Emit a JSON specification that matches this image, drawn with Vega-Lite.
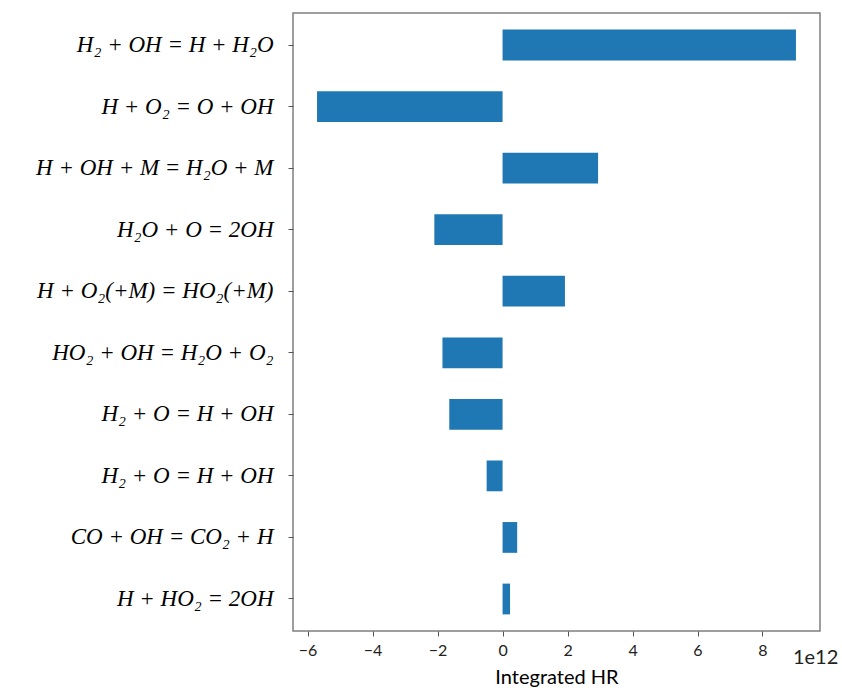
{
  "$schema": "https://vega.github.io/schema/vega-lite/v6.json",
  "width": 527,
  "height": 618,
  "autosize": {"type": "none"},
  "padding": {"left": 293, "top": 13, "right": 22, "bottom": 57},
  "background": "white",
  "config": {
    "view": {"stroke": "#7f7f7f", "strokeWidth": 1.5},
    "axis": {"grid": false, "domain": false}
  },
  "data": {
    "values": [
      {"order": 1, "reaction": "H₂ + OH = H + H₂O", "hr": 9.03},
      {"order": 2, "reaction": "H + O₂ = O + OH", "hr": -5.71},
      {"order": 3, "reaction": "H + OH + M = H₂O + M", "hr": 2.94},
      {"order": 4, "reaction": "H₂O + O = 2OH", "hr": -2.10},
      {"order": 5, "reaction": "H + O₂(+M) = HO₂(+M)", "hr": 1.92},
      {"order": 6, "reaction": "HO₂ + OH = H₂O + O₂", "hr": -1.85},
      {"order": 7, "reaction": "H₂ + O = H + OH", "hr": -1.64},
      {"order": 8, "reaction": "H₂ + O = H + OH\u200b", "hr": -0.49},
      {"order": 9, "reaction": "CO + OH = CO₂ + H", "hr": 0.45},
      {"order": 10, "reaction": "H + HO₂ = 2OH", "hr": 0.23}
    ]
  },
  "mark": {"type": "bar", "color": "#1f77b4"},
  "encoding": {
    "y": {
      "field": "reaction",
      "type": "nominal",
      "sort": {"field": "order", "op": "min"},
      "scale": {"paddingInner": 0.5, "paddingOuter": 0.27},
      "axis": {
        "title": null,
        "labelFont": "Liberation Serif",
        "labelFontStyle": "italic",
        "labelFontSize": 23,
        "labelColor": "#000000",
        "labelPadding": 15,
        "tickSize": 5,
        "tickColor": "#555555",
        "labelLimit": 300
      }
    },
    "x": {
      "field": "hr",
      "type": "quantitative",
      "scale": {"domain": [-6.45, 9.77], "nice": false, "zero": false},
      "axis": {
        "title": "Integrated HR",
        "titleFont": "Lato",
        "titleFontSize": 20,
        "titleFontWeight": "normal",
        "titleColor": "#000000",
        "titlePadding": 0,
        "values": [-6, -4, -2, 0, 2, 4, 6, 8, 9.62],
        "labelExpr": "datum.value > 9 ? '1e12' : format(datum.value, 'd')",
        "labelFont": "Lato",
        "labelFontSize": {"condition": {"test": "datum.value > 9", "value": 20}, "value": 16},
        "labelPadding": {"condition": {"test": "datum.value > 9", "value": 11}, "value": 6},
        "labelColor": "#222222",
        "tickSize": 5,
        "tickColor": {"condition": {"test": "datum.value > 9", "value": "transparent"}, "value": "#555555"}
      }
    }
  }
}
